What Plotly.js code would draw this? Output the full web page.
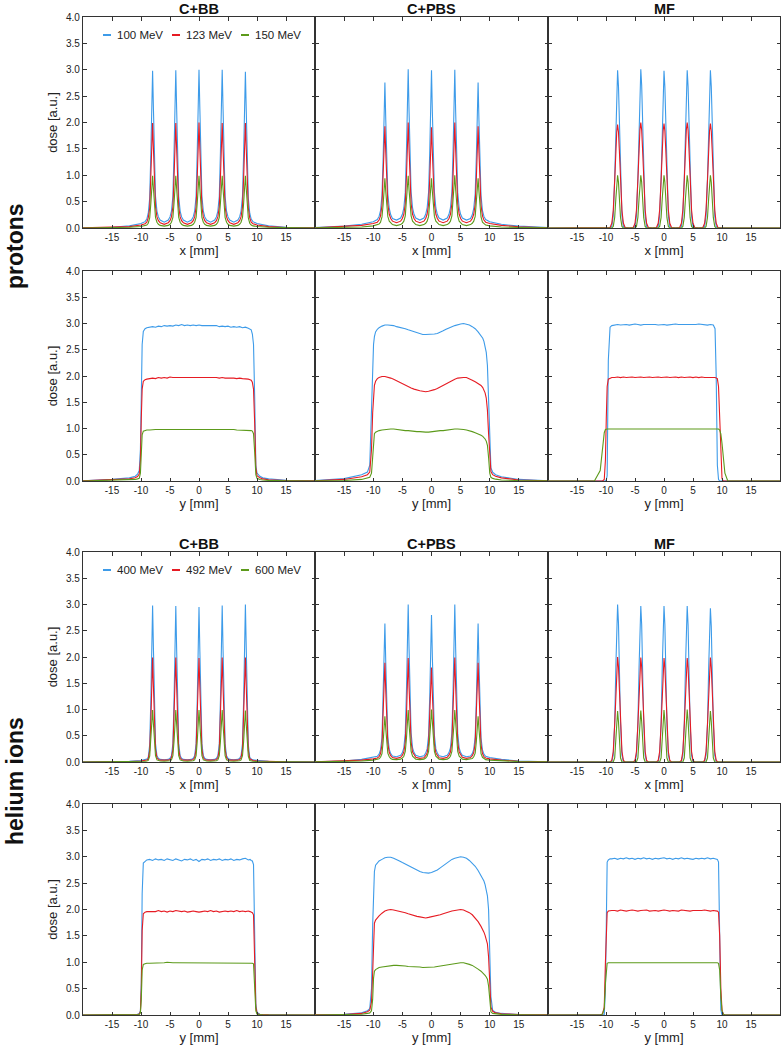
<!DOCTYPE html>
<html>
<head>
<meta charset="utf-8">
<script src="https://cdn.plot.ly/plotly-3.0.1.min.js"></script>
<style>html,body{margin:0;padding:0;background:#fff;}#chart{width:782px;height:1047px;}</style>
</head>
<body>
<div id="chart"></div>
<script>
// ---------------- DATA ----------------
const columnTitles = ['C+BB', 'C+PBS', 'MF'];
const rowLabels = ['protons', 'helium ions'];
const protonEnergies = ['100 MeV', '123 MeV', '150 MeV'];
const heliumEnergies = ['400 MeV', '492 MeV', '600 MeV'];
const xTickVals = [-15, -10, -5, 0, 5, 10, 15];
const xTickText = ['-15', '-10', '-5', '0', '5', '10', '15'];
const yTickVals = [0, 0.5, 1, 1.5, 2, 2.5, 3, 3.5, 4];
const yTickText = ['0.0', '0.5', '1.0', '1.5', '2.0', '2.5', '3.0', '3.5', '4.0'];

// sample positions [mm] for the x-profiles (five pencil-beam peaks)
const xPeak = [-20,-15,-12,-10,
 -9.3,-9,-8.75,-8.5,-8.3,-8.15,-8,-7.85,-7.7,-7.5,-7.25,-7,-6.7,
 -6,
 -5.3,-5,-4.75,-4.5,-4.3,-4.15,-4,-3.85,-3.7,-3.5,-3.25,-3,-2.7,
 -2,
 -1.3,-1,-0.75,-0.5,-0.3,-0.15,0,0.15,0.3,0.5,0.75,1,1.3,
 2,
 2.7,3,3.25,3.5,3.7,3.85,4,4.15,4.3,4.5,4.75,5,5.3,
 6,
 6.7,7,7.25,7.5,7.7,7.85,8,8.15,8.3,8.5,8.75,9,9.3,
 10,12,15,20];

// sample positions [mm] for the y-profiles (flat fields)
const yFlat = [-20,-15,-12,-11,-10.6,-10.3,-10.1,-9.95,-9.8,-9.6,-9.3,-9,
 -8.5,-8,-7.5,-7,-6.5,-6,-5.5,-5,-4.5,-4,-3.5,-3,-2.5,-2,-1.5,-1,-0.5,0,0.5,1,1.5,2,2.5,3,3.5,4,4.5,5,5.5,6,6.5,7,7.5,8,8.5,
 8.8,9,9.2,9.4,9.6,9.8,10,10.2,10.5,11,12,15,20];

// ---- protons, x-profiles ----
const protBBx100 = [0.005,0.015,0.04,0.085,
 0.12,0.17,0.28,0.57,1.43,2.23,2.98,2.23,1.44,0.6,0.32,0.21,0.15,
 0.11,
 0.15,0.21,0.32,0.6,1.45,2.24,2.99,2.24,1.45,0.6,0.32,0.21,0.15,
 0.11,
 0.15,0.21,0.32,0.6,1.46,2.25,3.0,2.25,1.46,0.6,0.32,0.21,0.15,
 0.11,
 0.15,0.21,0.32,0.6,1.46,2.25,3.0,2.25,1.46,0.6,0.32,0.21,0.15,
 0.11,
 0.15,0.21,0.32,0.6,1.43,2.22,2.96,2.22,1.42,0.57,0.28,0.17,0.12,
 0.085,0.04,0.015,0.005];
const protBBx123 = [0.003,0.01,0.027,0.057,
 0.08,0.11,0.19,0.38,0.96,1.49,1.99,1.49,0.97,0.4,0.21,0.14,0.1,
 0.07,
 0.1,0.14,0.21,0.4,0.97,1.49,1.99,1.49,0.97,0.4,0.21,0.14,0.1,
 0.07,
 0.1,0.14,0.21,0.4,0.97,1.5,2.0,1.5,0.97,0.4,0.21,0.14,0.1,
 0.07,
 0.1,0.14,0.21,0.4,0.97,1.49,1.99,1.49,0.97,0.4,0.21,0.14,0.1,
 0.07,
 0.1,0.14,0.21,0.4,0.97,1.49,1.99,1.49,0.96,0.38,0.19,0.11,0.08,
 0.057,0.027,0.01,0.003];
const protBBx150 = [0.001,0.005,0.013,0.028,
 0.04,0.055,0.09,0.19,0.47,0.74,0.99,0.74,0.48,0.2,0.11,0.07,0.05,
 0.035,
 0.05,0.07,0.11,0.2,0.48,0.74,0.99,0.74,0.48,0.2,0.11,0.07,0.05,
 0.035,
 0.05,0.07,0.11,0.2,0.48,0.74,0.99,0.74,0.48,0.2,0.11,0.07,0.05,
 0.035,
 0.05,0.07,0.11,0.2,0.48,0.74,0.99,0.74,0.48,0.2,0.11,0.07,0.05,
 0.035,
 0.05,0.07,0.11,0.2,0.48,0.74,0.99,0.74,0.47,0.19,0.09,0.055,0.04,
 0.028,0.013,0.005,0.001];

const protPBSx100 = [0.008,0.035,0.07,0.12,
 0.16,0.22,0.33,0.62,1.33,2.03,2.76,2.05,1.36,0.65,0.37,0.25,0.18,
 0.15,
 0.19,0.26,0.38,0.68,1.46,2.2,3.01,2.2,1.46,0.68,0.38,0.26,0.19,
 0.15,
 0.19,0.26,0.38,0.68,1.45,2.19,2.99,2.19,1.45,0.68,0.38,0.26,0.19,
 0.15,
 0.19,0.26,0.38,0.68,1.45,2.2,3.0,2.2,1.45,0.68,0.38,0.26,0.19,
 0.15,
 0.18,0.25,0.37,0.65,1.36,2.05,2.76,2.03,1.33,0.62,0.33,0.22,0.16,
 0.12,0.07,0.035,0.008];
const protPBSx123 = [0.005,0.025,0.05,0.085,
 0.11,0.15,0.23,0.43,0.93,1.42,1.93,1.43,0.95,0.45,0.26,0.18,0.13,
 0.1,
 0.13,0.18,0.26,0.46,0.98,1.48,2.0,1.48,0.98,0.46,0.26,0.18,0.13,
 0.1,
 0.13,0.18,0.26,0.45,0.94,1.42,1.91,1.42,0.94,0.45,0.26,0.18,0.13,
 0.1,
 0.13,0.18,0.26,0.46,0.98,1.48,2.0,1.48,0.98,0.46,0.26,0.18,0.13,
 0.1,
 0.13,0.18,0.26,0.45,0.95,1.43,1.93,1.42,0.93,0.43,0.23,0.15,0.11,
 0.085,0.05,0.025,0.005];
const protPBSx150 = [0.002,0.01,0.02,0.04,
 0.055,0.075,0.11,0.21,0.45,0.69,0.94,0.69,0.46,0.22,0.13,0.09,0.065,
 0.045,
 0.065,0.09,0.13,0.23,0.48,0.72,0.99,0.72,0.48,0.23,0.13,0.09,0.065,
 0.045,
 0.065,0.09,0.13,0.22,0.46,0.69,0.94,0.69,0.46,0.22,0.13,0.09,0.065,
 0.045,
 0.065,0.09,0.13,0.23,0.48,0.73,1.0,0.73,0.48,0.23,0.13,0.09,0.065,
 0.045,
 0.065,0.09,0.13,0.22,0.46,0.69,0.94,0.69,0.45,0.21,0.11,0.075,0.055,
 0.04,0.02,0.01,0.002];

const protMFx100 = [0,0,0,0,
 0,0.03,0.23,0.95,1.97,2.69,2.99,2.69,1.97,0.95,0.23,0.03,0,
 0,
 0,0.03,0.23,0.96,1.99,2.71,3.01,2.71,1.99,0.96,0.23,0.03,0,
 0,
 0,0.03,0.23,0.94,1.97,2.68,2.98,2.68,1.97,0.94,0.23,0.03,0,
 0,
 0,0.03,0.23,0.95,1.97,2.69,2.99,2.69,1.97,0.95,0.23,0.03,0,
 0,
 0,0.03,0.23,0.95,1.97,2.69,2.99,2.69,1.97,0.95,0.23,0.03,0,
 0,0,0,0];
const protMFx123 = [0,0,0,0,
 0.01,0.09,0.33,0.9,1.48,1.82,1.96,1.82,1.48,0.9,0.33,0.09,0.01,
 0,
 0.01,0.09,0.34,0.92,1.51,1.86,2.0,1.86,1.51,0.92,0.34,0.09,0.01,
 0,
 0.01,0.09,0.34,0.91,1.5,1.84,1.98,1.84,1.5,0.91,0.34,0.09,0.01,
 0,
 0.01,0.09,0.34,0.92,1.51,1.86,2.0,1.86,1.51,0.92,0.34,0.09,0.01,
 0,
 0.01,0.09,0.34,0.91,1.5,1.84,1.98,1.84,1.5,0.91,0.34,0.09,0.01,
 0,0,0,0];
const protMFx150 = [0,0,0,0,
 0,0,0.03,0.2,0.56,0.87,1.0,0.87,0.56,0.2,0.03,0,0,
 0,
 0,0,0.03,0.2,0.56,0.87,1.0,0.87,0.56,0.2,0.03,0,0,
 0,
 0,0,0.03,0.2,0.56,0.87,1.0,0.87,0.56,0.2,0.03,0,0,
 0,
 0,0,0.03,0.2,0.56,0.87,1.0,0.87,0.56,0.2,0.03,0,0,
 0,
 0,0,0.03,0.2,0.56,0.87,1.0,0.87,0.56,0.2,0.03,0,0,
 0,0,0,0];

// ---- protons, y-profiles ----
const protBBy100 = [0.005,0.03,0.06,0.09,0.13,0.2,0.6,1.8,2.6,2.85,2.9,2.92,
 2.93,2.94,2.93,2.95,2.94,2.96,2.95,2.96,2.95,2.97,2.96,2.98,2.96,2.97,2.96,2.97,2.96,2.97,2.96,2.96,2.95,2.96,2.95,2.96,2.94,2.95,2.94,2.95,2.93,2.94,2.93,2.94,2.92,2.93,2.91,
 2.9,2.88,2.8,2.6,1.6,0.3,0.15,0.12,0.09,0.06,0.04,0.015,0.005];
const protBBy123 = [0.003,0.02,0.04,0.06,0.085,0.13,0.4,1.2,1.75,1.9,1.93,1.94,
 1.95,1.96,1.95,1.97,1.96,1.97,1.96,1.98,1.97,1.97,1.98,1.97,1.98,1.97,1.98,1.97,1.98,1.97,1.98,1.97,1.97,1.98,1.97,1.97,1.96,1.97,1.96,1.96,1.97,1.96,1.95,1.96,1.95,1.95,1.94,
 1.93,1.92,1.88,1.75,1.1,0.25,0.1,0.08,0.06,0.04,0.025,0.01,0.003];
const protBBy150 = [0.001,0.01,0.02,0.03,0.04,0.05,0.15,0.55,0.88,0.95,0.96,0.97,
 0.97,0.98,0.98,0.98,0.98,0.98,0.98,0.99,0.98,0.99,0.99,0.98,0.99,0.99,0.99,0.99,0.99,0.99,0.99,0.99,0.98,0.99,0.98,0.98,0.98,0.98,0.98,0.98,0.98,0.98,0.97,0.97,0.97,0.97,0.97,
 0.96,0.96,0.95,0.9,0.55,0.12,0.05,0.04,0.03,0.02,0.012,0.005,0.001];

const protPBSy100 = [0.008,0.045,0.12,0.17,0.3,1.5,2.3,2.6,2.75,2.84,2.89,2.92,
 2.95,2.97,2.97,2.97,2.96,2.94,2.93,2.91,2.9,2.88,2.86,2.84,2.82,2.81,2.79,2.79,2.79,2.79,2.8,2.81,2.83,2.86,2.89,2.92,2.94,2.96,2.98,2.99,3.0,2.99,2.97,2.94,2.9,2.84,2.77,
 2.72,2.66,2.58,2.45,2.2,1.4,0.65,0.25,0.17,0.12,0.08,0.03,0.005];
const protPBSy123 = [0.005,0.03,0.08,0.12,0.17,0.6,1.3,1.65,1.82,1.9,1.95,1.97,
 1.99,1.99,1.98,1.96,1.94,1.91,1.88,1.85,1.82,1.79,1.77,1.75,1.73,1.72,1.71,1.7,1.71,1.72,1.74,1.76,1.79,1.82,1.86,1.89,1.92,1.94,1.96,1.97,1.97,1.97,1.95,1.92,1.89,1.86,1.82,
 1.78,1.74,1.68,1.58,1.35,0.9,0.4,0.18,0.12,0.09,0.06,0.02,0.004];
const protPBSy150 = [0.002,0.01,0.03,0.05,0.07,0.15,0.5,0.82,0.9,0.93,0.95,0.96,
 0.97,0.98,0.99,0.99,0.99,0.98,0.98,0.97,0.96,0.96,0.95,0.95,0.94,0.94,0.93,0.93,0.93,0.94,0.94,0.95,0.96,0.96,0.97,0.98,0.98,0.99,0.99,0.99,0.98,0.97,0.96,0.94,0.92,0.9,0.87,
 0.85,0.83,0.8,0.76,0.68,0.45,0.15,0.07,0.05,0.035,0.02,0.008,0.002];

const protMFy100 = [0,0,0,0,0,0,0,0.02,0.1,2.3,2.93,2.96,
 2.97,2.98,2.97,2.98,2.98,2.97,2.98,2.99,2.98,2.97,2.98,2.98,2.99,2.98,2.98,2.97,2.98,2.98,2.97,2.98,2.98,2.99,2.98,2.98,2.97,2.98,2.98,2.97,2.98,2.99,2.98,2.98,2.97,2.98,2.97,
 2.9,2.0,0.3,0.03,0,0,0,0,0,0,0,0,0];
const protMFy123 = [0,0,0,0,0,0.03,0.4,1.2,1.8,1.94,1.96,1.97,
 1.97,1.98,1.97,1.98,1.97,1.98,1.98,1.97,1.98,1.98,1.97,1.98,1.98,1.97,1.98,1.98,1.97,1.98,1.98,1.97,1.98,1.98,1.97,1.98,1.97,1.98,1.98,1.97,1.98,1.97,1.98,1.97,1.97,1.98,1.97,
 1.97,1.96,1.95,1.8,1.1,0.4,0.05,0,0,0,0,0,0];
const protMFy150 = [0,0,0,0.2,0.65,0.92,0.98,0.99,0.99,0.99,0.99,0.99,
 0.99,0.99,0.99,1.0,0.99,0.99,0.99,0.99,1.0,0.99,0.99,0.99,0.99,0.99,0.99,1.0,0.99,0.99,0.99,0.99,0.99,0.99,1.0,0.99,0.99,0.99,0.99,0.99,0.99,0.99,1.0,0.99,0.99,0.99,0.99,
 0.99,0.99,0.99,0.99,0.97,0.9,0.72,0.5,0.15,0,0,0,0];

// ---- helium ions, x-profiles ----
const heliBBx400 = [0.002,0.005,0.012,0.03,
 0.04,0.055,0.09,0.33,1.19,2.13,2.98,2.13,1.2,0.35,0.12,0.07,0.05,
 0.04,
 0.05,0.07,0.12,0.35,1.19,2.13,2.97,2.13,1.19,0.35,0.12,0.07,0.05,
 0.04,
 0.05,0.07,0.12,0.35,1.18,2.11,2.95,2.11,1.18,0.35,0.12,0.07,0.05,
 0.04,
 0.05,0.07,0.12,0.35,1.19,2.13,2.98,2.13,1.19,0.35,0.12,0.07,0.05,
 0.04,
 0.05,0.07,0.12,0.35,1.2,2.15,3.0,2.15,1.2,0.33,0.09,0.055,0.04,
 0.03,0.012,0.005,0.002];
const heliBBx492 = [0.001,0.003,0.008,0.02,
 0.028,0.038,0.06,0.22,0.79,1.42,1.99,1.42,0.8,0.24,0.08,0.05,0.035,
 0.028,
 0.035,0.05,0.08,0.24,0.8,1.42,1.99,1.42,0.8,0.24,0.08,0.05,0.035,
 0.028,
 0.035,0.05,0.08,0.24,0.8,1.42,1.98,1.42,0.8,0.24,0.08,0.05,0.035,
 0.028,
 0.035,0.05,0.08,0.24,0.8,1.42,1.99,1.42,0.8,0.24,0.08,0.05,0.035,
 0.028,
 0.035,0.05,0.08,0.24,0.8,1.42,1.99,1.42,0.79,0.22,0.06,0.038,0.028,
 0.02,0.008,0.003,0.001];
const heliBBx600 = [0,0.002,0.004,0.01,
 0.014,0.019,0.03,0.11,0.4,0.71,0.99,0.71,0.4,0.12,0.04,0.025,0.018,
 0.014,
 0.018,0.025,0.04,0.12,0.4,0.71,0.99,0.71,0.4,0.12,0.04,0.025,0.018,
 0.014,
 0.018,0.025,0.04,0.12,0.4,0.71,0.99,0.71,0.4,0.12,0.04,0.025,0.018,
 0.014,
 0.018,0.025,0.04,0.12,0.4,0.71,0.99,0.71,0.4,0.12,0.04,0.025,0.018,
 0.014,
 0.018,0.025,0.04,0.12,0.4,0.71,0.98,0.71,0.4,0.11,0.03,0.019,0.014,
 0.01,0.004,0.002,0];

const heliPBSx400 = [0.005,0.02,0.05,0.085,
 0.11,0.15,0.23,0.46,1.18,1.89,2.64,1.89,1.19,0.48,0.24,0.16,0.115,
 0.1,
 0.13,0.18,0.27,0.55,1.35,2.15,3.0,2.15,1.35,0.55,0.27,0.18,0.13,
 0.1,
 0.12,0.17,0.25,0.51,1.26,2.0,2.8,2.0,1.26,0.51,0.25,0.17,0.12,
 0.1,
 0.13,0.18,0.27,0.55,1.35,2.15,3.0,2.15,1.35,0.55,0.27,0.18,0.13,
 0.1,
 0.115,0.16,0.24,0.48,1.19,1.89,2.64,1.89,1.18,0.46,0.23,0.15,0.11,
 0.085,0.05,0.02,0.005];
const heliPBSx492 = [0.003,0.015,0.035,0.06,
 0.075,0.1,0.16,0.33,0.84,1.35,1.89,1.35,0.85,0.36,0.18,0.12,0.085,
 0.07,
 0.09,0.13,0.19,0.38,0.89,1.42,1.98,1.42,0.89,0.38,0.19,0.13,0.09,
 0.07,
 0.08,0.12,0.17,0.34,0.81,1.29,1.8,1.29,0.81,0.34,0.17,0.12,0.08,
 0.07,
 0.09,0.13,0.19,0.38,0.9,1.43,1.99,1.43,0.9,0.38,0.19,0.13,0.09,
 0.07,
 0.085,0.12,0.18,0.36,0.85,1.35,1.89,1.35,0.84,0.33,0.16,0.1,0.075,
 0.06,0.035,0.015,0.003];
const heliPBSx600 = [0.002,0.008,0.02,0.035,
 0.045,0.06,0.09,0.16,0.39,0.63,0.87,0.63,0.39,0.17,0.1,0.065,0.05,
 0.045,
 0.055,0.075,0.11,0.2,0.45,0.71,0.99,0.71,0.45,0.2,0.11,0.075,0.055,
 0.045,
 0.055,0.075,0.11,0.2,0.45,0.72,1.0,0.72,0.45,0.2,0.11,0.075,0.055,
 0.045,
 0.055,0.075,0.11,0.2,0.45,0.71,0.99,0.71,0.45,0.2,0.11,0.075,0.055,
 0.045,
 0.05,0.065,0.1,0.17,0.39,0.63,0.87,0.63,0.39,0.16,0.09,0.06,0.045,
 0.035,0.02,0.008,0.002];

const heliMFx400 = [0,0,0,0,
 0,0.01,0.13,0.75,1.82,2.65,3.0,2.65,1.82,0.75,0.13,0.01,0,
 0,
 0,0.01,0.13,0.74,1.8,2.62,2.97,2.62,1.8,0.74,0.13,0.01,0,
 0,
 0,0.01,0.13,0.74,1.8,2.62,2.97,2.62,1.8,0.74,0.13,0.01,0,
 0,
 0,0.01,0.13,0.74,1.8,2.62,2.97,2.62,1.8,0.74,0.13,0.01,0,
 0,
 0,0.01,0.13,0.73,1.78,2.59,2.93,2.59,1.78,0.73,0.13,0.01,0,
 0,0,0,0];
const heliMFx492 = [0,0,0,0,
 0,0.03,0.2,0.72,1.39,1.82,2.0,1.82,1.39,0.72,0.2,0.03,0,
 0,
 0,0.03,0.2,0.72,1.38,1.81,1.99,1.81,1.38,0.72,0.2,0.03,0,
 0,
 0,0.03,0.2,0.71,1.38,1.8,1.98,1.8,1.38,0.71,0.2,0.03,0,
 0,
 0,0.03,0.2,0.71,1.38,1.8,1.98,1.8,1.38,0.71,0.2,0.03,0,
 0,
 0,0.03,0.2,0.72,1.38,1.81,1.99,1.81,1.38,0.72,0.2,0.03,0,
 0,0,0,0];
const heliMFx600 = [0,0,0,0,
 0,0,0,0.08,0.38,0.77,0.97,0.77,0.38,0.08,0,0,0,
 0,
 0,0,0,0.08,0.38,0.77,0.98,0.77,0.38,0.08,0,0,0,
 0,
 0,0,0,0.08,0.39,0.78,0.99,0.78,0.39,0.08,0,0,0,
 0,
 0,0,0,0.08,0.39,0.79,1.0,0.79,0.39,0.08,0,0,0,
 0,
 0,0,0,0.08,0.38,0.77,0.97,0.77,0.38,0.08,0,0,0,
 0,0,0,0];

// ---- helium ions, y-profiles ----
const heliBBy400 = [0,0.002,0.005,0.01,0.015,0.03,0.08,0.6,2.3,2.88,2.92,2.94,
 2.95,2.93,2.96,2.94,2.95,2.93,2.96,2.95,2.93,2.96,2.94,2.92,2.95,2.94,2.96,2.93,2.95,2.91,2.95,2.94,2.96,2.93,2.95,2.94,2.96,2.93,2.95,2.94,2.96,2.93,2.95,2.94,2.96,2.97,2.94,
 2.95,2.93,2.92,2.85,1.5,0.2,0.05,0.03,0.015,0.01,0.005,0.002,0];
const heliBBy492 = [0,0.001,0.003,0.007,0.01,0.02,0.06,0.5,1.6,1.92,1.95,1.96,
 1.96,1.97,1.96,1.98,1.96,1.97,1.95,1.97,1.96,1.98,1.97,1.96,1.97,1.95,1.96,1.97,1.96,1.95,1.96,1.97,1.96,1.98,1.96,1.97,1.95,1.96,1.97,1.96,1.97,1.96,1.98,1.96,1.97,1.96,1.97,
 1.96,1.95,1.94,1.9,1.0,0.15,0.04,0.02,0.01,0.007,0.003,0.001,0];
const heliBBy600 = [0,0.001,0.002,0.004,0.006,0.01,0.04,0.3,0.85,0.96,0.97,0.98,
 0.98,0.98,0.99,0.99,0.99,0.99,1.0,0.99,0.99,0.99,0.99,0.99,0.99,0.98,0.99,0.99,0.99,0.99,0.98,0.99,0.99,0.99,0.99,0.98,0.98,0.99,0.98,0.98,0.98,0.99,0.98,0.98,0.98,0.98,0.98,
 0.98,0.98,0.98,0.97,0.6,0.08,0.02,0.01,0.006,0.004,0.002,0.001,0];

const heliPBSy400 = [0.003,0.012,0.04,0.08,0.12,0.5,1.7,2.45,2.72,2.84,2.89,2.92,
 2.95,2.98,2.99,2.99,2.97,2.95,2.92,2.89,2.86,2.84,2.81,2.78,2.75,2.72,2.7,2.69,2.69,2.7,2.72,2.75,2.79,2.83,2.87,2.91,2.95,2.97,2.99,3.0,2.99,2.97,2.93,2.88,2.82,2.74,2.65,
 2.59,2.54,2.47,2.38,2.26,2.0,1.3,0.35,0.09,0.05,0.03,0.01,0.002];
const heliPBSy492 = [0.002,0.01,0.03,0.06,0.09,0.25,0.8,1.5,1.74,1.8,1.85,1.88,
 1.93,1.97,1.99,2.0,1.99,1.98,1.97,1.96,1.94,1.92,1.9,1.89,1.87,1.86,1.85,1.84,1.85,1.86,1.87,1.88,1.9,1.92,1.94,1.96,1.97,1.98,1.99,2.0,1.99,1.97,1.94,1.9,1.84,1.77,1.68,
 1.62,1.57,1.51,1.44,1.35,1.1,0.5,0.15,0.07,0.04,0.025,0.008,0.002];
const heliPBSy600 = [0.001,0.005,0.015,0.03,0.04,0.08,0.3,0.7,0.83,0.86,0.88,0.9,
 0.91,0.92,0.93,0.94,0.94,0.94,0.94,0.93,0.93,0.92,0.92,0.91,0.91,0.91,0.9,0.9,0.9,0.91,0.91,0.92,0.93,0.94,0.95,0.96,0.97,0.98,0.99,0.99,0.99,0.98,0.96,0.94,0.91,0.87,0.83,
 0.8,0.78,0.75,0.72,0.68,0.55,0.2,0.06,0.03,0.02,0.012,0.004,0.001];

const heliMFy400 = [0,0,0,0,0,0.01,0.5,2.3,2.9,2.94,2.96,2.96,
 2.97,2.95,2.97,2.96,2.98,2.96,2.97,2.95,2.97,2.96,2.98,2.96,2.97,2.95,2.97,2.96,2.97,2.98,2.96,2.97,2.95,2.97,2.96,2.98,2.96,2.97,2.96,2.95,2.97,2.96,2.97,2.96,2.98,2.96,2.97,
 2.96,2.95,2.95,2.9,1.2,0.1,0,0,0,0,0,0,0];
const heliMFy492 = [0,0,0,0,0.02,0.15,1.0,1.8,1.94,1.97,1.98,1.98,
 1.98,1.97,1.99,1.98,1.97,1.98,1.99,1.98,1.97,1.98,1.98,1.99,1.97,1.98,1.98,1.97,1.98,1.99,1.98,1.97,1.98,1.98,1.97,1.99,1.98,1.98,1.97,1.98,1.98,1.97,1.98,1.99,1.98,1.97,1.98,
 1.98,1.97,1.97,1.95,1.5,0.5,0.1,0.02,0,0,0,0,0];
const heliMFy600 = [0,0,0,0,0.02,0.12,0.6,0.92,0.98,0.99,0.99,0.99,
 0.99,0.99,1.0,0.99,0.99,0.99,0.99,0.99,0.99,1.0,0.99,0.99,0.99,0.99,0.99,0.99,0.99,1.0,0.99,0.99,0.99,0.99,0.99,0.99,0.99,1.0,0.99,0.99,0.99,0.99,0.99,0.99,0.99,0.99,0.99,
 0.99,0.99,0.99,0.98,0.85,0.35,0.08,0.02,0,0,0,0,0];

// ---------------- LAYOUT / DRAW ----------------
const W = 782, H = 1047;
const FONT = 'Liberation Sans, Arial, Helvetica, sans-serif';
const colors = ['#3d9be9', '#e61b23', '#5c9a1b'];
const colPx = [[83, 315], [315, 548], [548, 780]];
const rowPx = [[17, 228], [271, 481], [552, 762], [804, 1015]];
const rowGrid = [xPeak, yFlat, xPeak, yFlat];
const rowXTitle = ['x [mm]', 'y [mm]', 'x [mm]', 'y [mm]'];

const panels = [
  [[protBBx100, protBBx123, protBBx150], [protPBSx100, protPBSx123, protPBSx150], [protMFx100, protMFx123, protMFx150]],
  [[protBBy100, protBBy123, protBBy150], [protPBSy100, protPBSy123, protPBSy150], [protMFy100, protMFy123, protMFy150]],
  [[heliBBx400, heliBBx492, heliBBx600], [heliPBSx400, heliPBSx492, heliPBSx600], [heliMFx400, heliMFx492, heliMFx600]],
  [[heliBBy400, heliBBy492, heliBBy600], [heliPBSy400, heliPBSy492, heliPBSy600], [heliMFy400, heliMFy492, heliMFy600]]
];
const rowEnergies = [protonEnergies, protonEnergies, heliumEnergies, heliumEnergies];

const px = v => v / W;
const py = v => 1 - v / H;

const traces = [];
const layout = {
  width: W, height: H,
  margin: {l: 0, r: 0, t: 0, b: 0},
  paper_bgcolor: '#ffffff', plot_bgcolor: '#ffffff',
  font: {family: FONT, color: '#222', size: 10},
  showlegend: false,
  annotations: [], shapes: []
};

for (let r = 0; r < 4; r++) {
  for (let c = 0; c < 3; c++) {
    const k = r * 3 + c + 1;
    const sfx = k === 1 ? '' : String(k);
    layout['xaxis' + sfx] = {
      domain: [px(colPx[c][0]), px(colPx[c][1])],
      anchor: 'y' + sfx,
      range: [-20, 20], tickmode: 'array', tickvals: xTickVals, ticktext: xTickText,
      ticks: 'inside', ticklen: 3.5, tickwidth: 1, tickcolor: '#333',
      showline: true, linecolor: '#333', linewidth: 1.2, mirror: 'ticks',
      showgrid: false, zeroline: false, fixedrange: true,
      tickfont: {family: FONT, size: 10, color: '#222'},
      title: {text: rowXTitle[r], font: {family: FONT, size: 13, color: '#222'}, standoff: 3}
    };
    layout['yaxis' + sfx] = {
      domain: [py(rowPx[r][1]), py(rowPx[r][0])],
      anchor: 'x' + sfx,
      range: [0, 4], tickmode: 'array', tickvals: yTickVals, ticktext: yTickText,
      ticks: 'inside', ticklen: 3.5, tickwidth: 1, tickcolor: '#333',
      showline: true, linecolor: '#333', linewidth: 1.2, mirror: 'ticks',
      showgrid: false, zeroline: false, fixedrange: true,
      showticklabels: c === 0,
      tickfont: {family: FONT, size: 10, color: '#222'},
      title: c === 0 ? {text: 'dose [a.u.]', font: {family: FONT, size: 13, color: '#222'}, standoff: 5} : {text: ''}
    };
    panels[r][c].forEach((ys, i) => {
      traces.push({
        type: 'scatter', mode: 'lines',
        x: rowGrid[r], y: ys,
        name: rowEnergies[r][i],
        line: {color: colors[i], width: 1.1},
        xaxis: 'x' + sfx, yaxis: 'y' + sfx,
        hoverinfo: 'skip', showlegend: false
      });
    });
  }
}

// column titles above rows 1 and 3
[0, 2].forEach(r => {
  columnTitles.forEach((t, c) => {
    layout.annotations.push({
      text: '<b>' + t + '</b>', xref: 'paper', yref: 'paper',
      x: px((colPx[c][0] + colPx[c][1]) / 2), y: py(rowPx[r][0] - 8.5),
      xanchor: 'center', yanchor: 'middle', showarrow: false,
      font: {family: FONT, size: 14.5, color: '#111'}
    });
  });
});

// row labels
const rowLabelY = [246, 781];
rowLabels.forEach((t, i) => {
  layout.annotations.push({
    text: '<b>' + t + '</b>', xref: 'paper', yref: 'paper',
    x: px(15), y: py(rowLabelY[i]), xanchor: 'center', yanchor: 'middle',
    textangle: -90, showarrow: false,
    font: {family: FONT, size: 23, color: '#111'}
  });
});

// in-panel legends (rows 1 and 3, first column)
const legendY = [35, 570];
const legDashX = [103, 172, 241];
const legTextX = [115, 184, 253];
[protonEnergies, heliumEnergies].forEach((energies, j) => {
  energies.forEach((e, i) => {
    layout.shapes.push({
      type: 'line', xref: 'paper', yref: 'paper',
      x0: px(legDashX[i]), x1: px(legDashX[i] + 8),
      y0: py(legendY[j]), y1: py(legendY[j]),
      line: {color: colors[i], width: 2}
    });
    layout.annotations.push({
      text: e, xref: 'paper', yref: 'paper',
      x: px(legTextX[i]), y: py(legendY[j]), xanchor: 'left', yanchor: 'middle',
      showarrow: false, font: {family: FONT, size: 11.5, color: '#222'}
    });
  });
});

Plotly.newPlot('chart', traces, layout, {displayModeBar: false, staticPlot: true});
</script>
</body>
</html>
